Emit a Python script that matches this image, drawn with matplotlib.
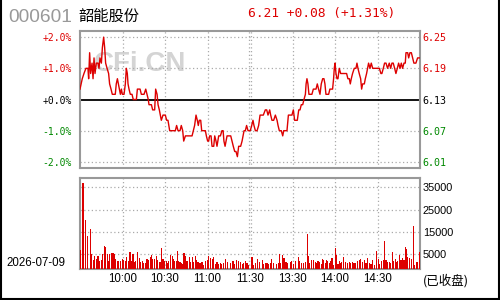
import matplotlib
matplotlib.use('Agg')
import matplotlib.pyplot as plt
from matplotlib.lines import Line2D

# ---------------- data ----------------
CODE = '000601'
NAME = '韶能股份'
DATE = '2026-07-09'
STATUS = '(已收盘)'
PREV_CLOSE = 6.13
LAST = 6.21
CHANGE = 0.08
CHANGE_PCT = 1.31

PRICE_TICKS = [6.01, 6.07, 6.13, 6.19, 6.25]
PRICE_TICK_LABELS = ['6.01', '6.07', '6.13', '6.19', '6.25']
PCT_TICK_LABELS = ['-2.0%', '-1.0%', '+0.0%', '+1.0%', '+2.0%']
TIME_TICKS = [30, 60, 90, 120, 150, 180, 210]
TIME_LABELS = ['10:00', '10:30', '11:00', '11:30', '13:30', '14:00', '14:30']
VOL_TICKS = [5000, 15000, 25000, 35000]
VOL_TICK_LABELS = ['5000', '15000', '25000', '35000']

# minutes since 9:30 (trading minutes) and price
T = [0, 1.6, 2.8, 4.2, 5.6, 6.1, 6.8, 7.5, 8.5, 9.2, 9.9, 10.6, 11.5, 12.7, 13.4,
     14.1, 15.1, 15.8, 16.7, 17.4, 18.1, 19.1, 20.2, 20.9, 21.9, 22.8, 24.9, 25.6, 26.4, 27.1,
     27.8, 28.5, 29.2, 29.9, 31.1, 32.0, 32.7, 33.4, 33.9, 34.6, 35.5, 36.7, 37.6, 39.8, 40.5,
     42.4, 43.3, 45.2, 46.4, 47.3, 48.2, 48.7, 50.4, 51.3, 52.7, 53.4, 54.4, 55.1, 56.0, 56.7,
     57.4, 58.6, 60.2, 61.2, 62.1, 63.3, 65.6, 67.3, 68.2, 69.2, 70.6, 71.5, 72.5, 73.2, 74.4,
     79.1, 80.9, 81.9, 82.8, 83.5, 84.2, 85.2, 85.9, 88.5, 89.2, 90.1, 90.8, 91.5, 92.5, 93.2,
     94.4, 95.1, 96.0, 96.7, 97.9, 99.1, 100.2, 101.0, 101.6, 102.4, 103.1, 103.8, 106.4, 107.3, 108.2,
     109.2, 110.1, 111.1, 112.0, 113.4, 114.4, 115.1, 115.8, 116.7, 117.6, 118.6, 120.2, 121.2, 122.1, 122.8,
     123.8, 125.0, 126.1, 127.1, 129.4, 130.8, 131.8, 132.7, 133.9, 134.6, 135.5, 136.7, 137.9, 139.1, 139.8,
     140.7, 142.1, 143.1, 143.8, 146.1, 147.1, 149.6, 150.6, 151.5, 153.4, 154.4, 155.3, 156.2, 157.2, 158.1,
     159.1, 159.6, 160.2, 160.9, 161.6, 163.7, 164.7, 165.9, 166.6, 167.5, 168.4, 169.4, 170.3, 171.3, 172.2,
     172.9, 173.6, 175.5, 176.4, 177.4, 178.3, 179.0, 179.5, 180.0, 180.7, 181.4, 182.1, 183.0, 184.0, 187.3,
     188.2, 189.1, 190.1, 190.8, 191.5, 192.4, 193.6, 194.8, 195.5, 196.2, 197.1, 198.1, 198.8, 199.5, 200.7,
     201.4, 202.3, 203.0, 203.7, 204.7, 205.6, 206.6, 211.3, 212.4, 213.1, 214.1, 215.0, 216.0, 217.1, 218.3,
     219.3, 220.2, 221.1, 222.1, 223.0, 224.0, 224.9, 225.9, 226.8, 227.7, 228.7, 229.6, 230.1, 231.3, 232.0,
     232.9, 233.9, 234.8, 235.7, 237.1, 238.3, 240.0]
PRICE = [6.15, 6.17, 6.18, 6.19, 6.19, 6.17, 6.22, 6.18, 6.20, 6.17, 6.21, 6.18, 6.20, 6.20, 6.19,
         6.21, 6.20, 6.23, 6.25, 6.23, 6.20, 6.19, 6.18, 6.16, 6.15, 6.14, 6.14, 6.16, 6.17, 6.16,
         6.15, 6.14, 6.15, 6.14, 6.14, 6.16, 6.19, 6.18, 6.16, 6.15, 6.14, 6.14, 6.13, 6.13, 6.15,
         6.15, 6.14, 6.14, 6.15, 6.14, 6.13, 6.12, 6.12, 6.11, 6.11, 6.15, 6.14, 6.12, 6.11, 6.10,
         6.09, 6.10, 6.10, 6.09, 6.09, 6.07, 6.07, 6.07, 6.08, 6.07, 6.07, 6.08, 6.07, 6.05, 6.06,
         6.06, 6.08, 6.10, 6.09, 6.08, 6.09, 6.09, 6.07, 6.07, 6.06, 6.05, 6.05, 6.06, 6.06, 6.04,
         6.04, 6.06, 6.05, 6.04, 6.06, 6.06, 6.07, 6.07, 6.05, 6.04, 6.05, 6.06, 6.06, 6.05, 6.04,
         6.03, 6.03, 6.02, 6.04, 6.04, 6.05, 6.06, 6.07, 6.07, 6.08, 6.07, 6.07, 6.08, 6.09, 6.08,
         6.07, 6.07, 6.08, 6.10, 6.10, 6.11, 6.11, 6.10, 6.11, 6.10, 6.09, 6.09, 6.10, 6.09, 6.08,
         6.07, 6.07, 6.06, 6.07, 6.07, 6.10, 6.10, 6.11, 6.09, 6.09, 6.11, 6.11, 6.12, 6.12, 6.13,
         6.14, 6.16, 6.17, 6.16, 6.14, 6.14, 6.15, 6.15, 6.15, 6.16, 6.15, 6.14, 6.16, 6.17, 6.17,
         6.16, 6.14, 6.14, 6.15, 6.15, 6.15, 6.17, 6.19, 6.20, 6.18, 6.17, 6.17, 6.19, 6.18, 6.18,
         6.18, 6.17, 6.17, 6.16, 6.17, 6.18, 6.19, 6.19, 6.20, 6.19, 6.18, 6.17, 6.15, 6.16, 6.16,
         6.17, 6.18, 6.19, 6.20, 6.19, 6.20, 6.19, 6.19, 6.18, 6.18, 6.19, 6.20, 6.20, 6.19, 6.20,
         6.19, 6.20, 6.20, 6.19, 6.18, 6.19, 6.20, 6.19, 6.20, 6.19, 6.20, 6.20, 6.22, 6.22, 6.21,
         6.22, 6.22, 6.21, 6.20, 6.20, 6.21, 6.21]

VOL_T = [0, 2.1, 4.2, 5.6, 7.1, 8.0, 9.2, 10.4, 11.5, 12.7, 13.9, 15.1, 15.8, 17.0, 17.9,
         19.1, 20.0, 20.9, 22.1, 23.3, 24.5, 25.2, 26.4, 27.5, 28.7, 29.9, 30.8, 32.0, 32.9, 34.1,
         35.3, 36.2, 37.4, 38.6, 39.5, 40.5, 41.7, 42.6, 43.8, 45.0, 46.1, 47.3, 48.5, 49.6, 50.4,
         51.5, 52.7, 53.9, 54.6, 55.8, 57.0, 57.6, 58.6, 59.8, 60.9, 61.9, 62.8, 64.0, 65.0, 65.9,
         66.8, 67.8, 68.7, 69.7, 70.6, 71.5, 72.5, 73.4, 74.4, 75.3, 76.2, 77.2, 78.1, 79.1, 80.2,
         81.4, 82.1, 83.3, 84.7, 86.1, 87.3, 88.5, 89.7, 90.8, 92.0, 93.2, 94.4, 95.5, 96.7, 97.9,
         99.1, 100.2, 101.4, 103.0, 104.2, 106.1, 108.0, 109.2, 110.8, 112.0, 113.2, 114.4, 115.5, 116.7, 117.9,
         119.0, 121.4, 122.6, 123.8, 125.4, 126.8, 128.5, 129.2, 130.8, 132.0, 133.2, 134.4, 135.5, 136.7, 138.6,
         139.8, 140.7, 141.6, 143.1, 144.0, 145.4, 146.8, 148.5, 149.6, 150.8, 152.0, 154.1, 155.1, 156.2, 157.9,
         159.1, 160.5, 161.4, 162.3, 163.7, 165.1, 166.1, 167.0, 168.0, 168.9, 170.3, 171.3, 172.2, 173.1, 174.1,
         175.0, 176.0, 176.9, 177.9, 178.8, 180.2, 181.1, 182.1, 183.0, 184.0, 184.9, 186.3, 187.7, 188.7, 190.1,
         191.0, 192.4, 193.4, 194.8, 196.0, 197.1, 198.3, 199.5, 200.7, 201.9, 203.0, 204.2, 205.4, 206.6, 207.7,
         209.6, 210.8, 211.7, 213.1, 214.1, 214.8, 216.0, 217.1, 218.3, 219.5, 220.7, 221.6, 222.6, 223.5, 224.4,
         225.4, 226.6, 227.7, 228.7, 229.6, 230.6, 231.5, 232.9, 234.3, 235.3, 236.2, 237.3, 238.4, 239.5]
VOL = [6700, 37000, 20300, 13000, 16100, 5000, 2400, 3900, 2900, 3900, 2000, 2400, 5000, 8400, 8000,
       5000, 1700, 5000, 5400, 5400, 5000, 2700, 1700, 1700, 1700, 2900, 2400, 1700, 3500, 2000,
       5900, 1700, 5000, 1200, 1700, 5900, 3200, 1400, 1700, 940, 940, 2700, 2400, 3500, 4700,
       2700, 2700, 3900, 2400, 1400, 1400, 7700, 2700, 2000, 2000, 940, 2000, 4400, 3900, 2900,
       1700, 2000, 6200, 1700, 1400, 940, 490, 5450, 3900, 1700, 1700, 3500, 1200, 3650, 1500,
       4250, 2440, 1390, 940, 1390, 190, 1990, 2440, 3950, 3200, 2740, 3650, 490, 1390, 490,
       940, 490, 940, 2740, 1390, 940, 1690, 640, 2440, 1690, 1390, 490, 940, 1690, 940,
       100, 3650, 100, 940, 2740, 1390, 2440, 490, 940, 940, 490, 940, 2740, 940, 490,
       940, 5000, 940, 4700, 3200, 1390, 940, 1390, 1690, 490, 1690, 3650, 1690, 940, 940,
       1390, 14000, 3950, 940, 2440, 2440, 1390, 940, 1690, 1390, 490, 2740, 2440, 940, 2440,
       1690, 940, 1690, 3200, 100, 7700, 4400, 490, 1690, 940, 1390, 3650, 1390, 940, 1390,
       940, 1390, 940, 940, 1690, 2440, 2740, 1390, 2290, 940, 3200, 790, 490, 2290, 100,
       6500, 2740, 490, 1690, 2440, 10700, 2440, 1390, 1390, 940, 5900, 1990, 2740, 1390, 1690,
       4400, 2440, 3200, 2440, 8150, 7250, 3650, 3200, 2700, 17800, 100, 1500, 1500, 6000]

# ---------------- style ----------------
RED = '#dd0000'
GREEN = '#008800'
GRID = '#aaaaaa'
FRAME = '#999999'
MONO = 'DejaVu Sans Mono'
SANS = 'Liberation Sans'
CJK = ['Noto Sans CJK SC', 'DejaVu Sans']
PCT_LIM = 2.15
VOL_LIM = (-1900, 39100)

fig = plt.figure(figsize=(5, 3), dpi=100)
fig.patch.set_facecolor('white')

ax = fig.add_axes([80 / 500, 1 - 168 / 300, 340 / 500, 137 / 300])
axv = fig.add_axes([80 / 500, 1 - 269.3 / 300, 340 / 500, 91 / 300])

pct = [(p / PREV_CLOSE - 1) * 100 for p in PRICE]
pct_ticks = [(p / PREV_CLOSE - 1) * 100 for p in PRICE_TICKS]

for a in (ax, axv):
    a.set_xlim(0, 240)
    for s in a.spines.values():
        s.set_color(FRAME)
        s.set_linewidth(1.5)
    a.set_xticks([])
    for t in TIME_TICKS:
        offs = (-0.6, 0.6) if t == 120 else (0,)
        for o in offs:
            a.axvline(t + o, color=GRID, lw=0.9, ls=(0, (1, 2)), zorder=1)

# ---- price panel ----
ax.set_ylim(-PCT_LIM, PCT_LIM)
ax.text(42.4, 1.12, 'CFi.CN', ha='center', va='center', fontsize=20,
        fontweight='bold', family=SANS, color='#d4d4d4', zorder=0)
for v in pct_ticks:
    if abs(v) < 1e-9:
        ax.axhline(0, color='black', lw=1.3, zorder=2)
    else:
        ax.axhline(v, color=GRID, lw=0.9, ls=(0, (1, 2)), zorder=1)
ax.plot(T, pct, color=RED, lw=1.0, zorder=3)

ax.set_yticks(pct_ticks)
ax.set_yticklabels(PCT_TICK_LABELS, family=MONO, fontsize=7)
ax.tick_params(axis='y', length=0, pad=6)
axr = ax.twinx()
axr.set_ylim(-PCT_LIM, PCT_LIM)
axr.set_yticks(pct_ticks)
axr.set_yticklabels(PRICE_TICK_LABELS, family=MONO, fontsize=7.2)
axr.tick_params(axis='y', length=0, pad=1.5)
for s in axr.spines.values():
    s.set_visible(False)


def colour(v):
    if v > 1e-9:
        return RED
    if v < -1e-9:
        return GREEN
    return 'black'


for lab, v in zip(ax.get_yticklabels(), pct_ticks):
    lab.set_color(colour(v))
for lab, v in zip(axr.get_yticklabels(), pct_ticks):
    lab.set_color(colour(v))

# ---- volume panel ----
axv.set_ylim(*VOL_LIM)
for v in VOL_TICKS:
    axv.axhline(v, color=GRID, lw=0.9, ls=(0, (1, 2)), zorder=1)
axv.bar(VOL_T, [v - VOL_LIM[0] for v in VOL], bottom=VOL_LIM[0], width=0.75,
        color=RED, align='center', zorder=3, linewidth=0)
axv.set_yticks([])
axvr = axv.twinx()
axvr.set_ylim(*VOL_LIM)
axvr.set_yticks(VOL_TICKS)
axvr.set_yticklabels(VOL_TICK_LABELS, family=SANS, fontsize=7.8)
axvr.tick_params(axis='y', length=0, pad=2)
for s in axvr.spines.values():
    s.set_visible(False)
axv.set_xticks(TIME_TICKS)
axv.set_xticklabels(TIME_LABELS, family=SANS, fontsize=8.3)
axv.tick_params(axis='x', length=0, pad=3)

# ---- header / footer texts ----
fig.text(8 / 500, 1 - 17.5 / 300, CODE, family=SANS, fontsize=13.8, color='#999999',
         va='center', ha='left')
fig.text(78 / 500, 1 - 16 / 300, NAME, family=CJK, fontsize=11, color='black',
         va='center', ha='left')
fig.text(248 / 500, 1 - 14 / 300,
         f'{LAST:.2f} +{CHANGE:.2f} (+{CHANGE_PCT:.2f}%)',
         family=MONO, fontsize=9.3, color=RED, va='center', ha='left')
fig.text(6.5 / 500, 1 - 262.5 / 300, DATE, family=SANS, fontsize=8.3, color='black',
         va='center', ha='left')
fig.text(423 / 500, 1 - 281 / 300, STATUS, family=CJK, fontsize=9, color='black',
         va='center', ha='left')

# outer border (left, right, bottom)
for xs, ys in (([0.0015, 0.0015], [0, 1]), ([0.9985, 0.9985], [0, 1]), ([0, 1], [0.003, 0.003])):
    fig.add_artist(Line2D(xs, ys, color='black', lw=1.5, transform=fig.transFigure))

fig.savefig('out.png', dpi=100)
